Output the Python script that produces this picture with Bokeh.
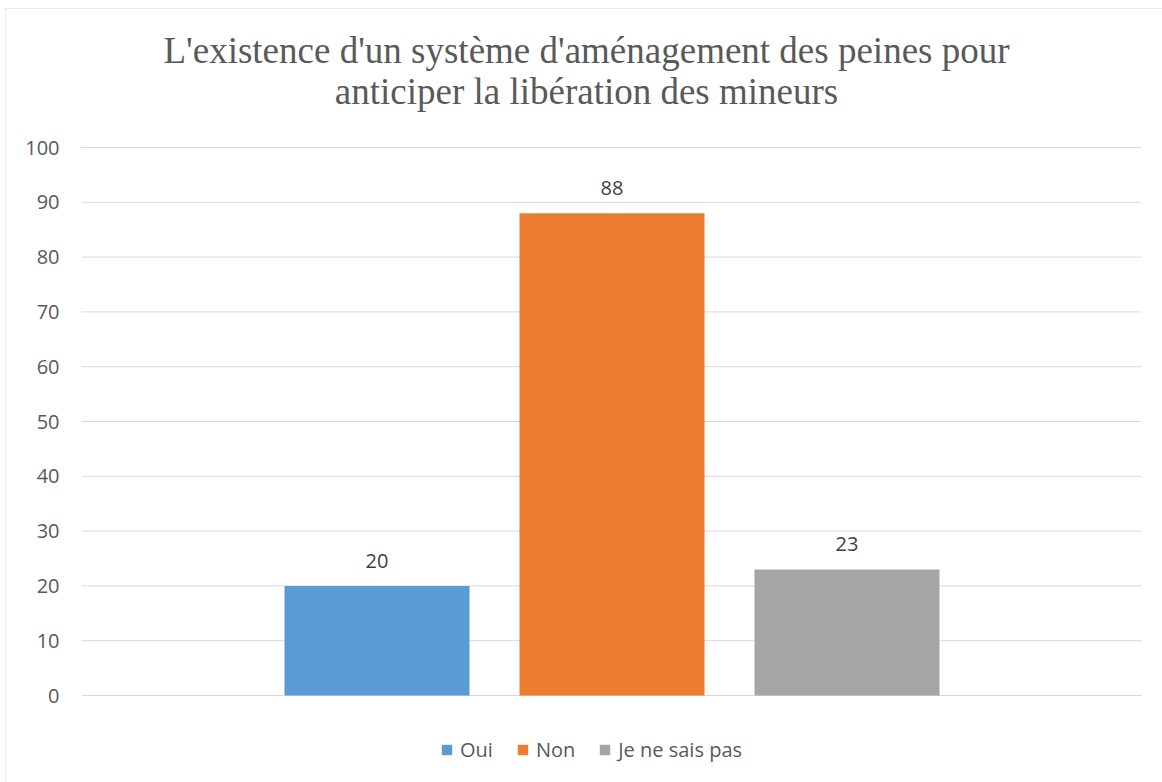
from bokeh.plotting import figure
from bokeh.models import (Range1d, Legend, LegendItem, Label,
                          ColumnDataSource)
from bokeh.core.properties import value
from bokeh.embed import file_html
from bokeh.resources import INLINE

title_lines = ["L'existence d'un système d'aménagement des peines pour",
               "anticiper la libération des mineurs"]
series = ["Oui", "Non", "Je ne sais pas"]
values = [20, 88, 23]
colors = ["#5B9BD5", "#ED7D31", "#A5A5A5"]
y_ticks = [0, 10, 20, 30, 40, 50, 60, 70, 80, 90, 100]

# layout constants (pixels): canvas 1157x774, plot area 76..1136 x 139..687
W, H = 1157, 774
PX_X = 235.0          # pixels per bar slot
PX_Y = 5.48           # pixels per y unit
X0_PX, Y0_PX = 371.5, 687.0   # pixel position of first slot centre and y=0
PLOT_L_PX, PLOT_R_PX = 76, 1136

xs = list(range(len(series)))
plot_left = (PLOT_L_PX - X0_PX) / PX_X
plot_right = (PLOT_R_PX - X0_PX) / PX_X

p = figure(x_range=Range1d(-X0_PX / PX_X, (W - X0_PX) / PX_X),
           y_range=Range1d(-(H - Y0_PX) / PX_Y, Y0_PX / PX_Y),
           width=W, height=H, min_border=0,
           x_axis_location=None, y_axis_location=None,
           output_backend="svg", toolbar_location=None,
           background_fill_color="white", border_fill_color="white")
p.outline_line_color = None
p.grid.visible = False
p.styles = {"margin-left": "5px", "margin-top": "8px",
            "box-shadow": "inset 1px 1px 0 #D9D9D9"}

# gridlines
grid = ColumnDataSource(dict(x0=[plot_left] * len(y_ticks),
                             x1=[plot_right] * len(y_ticks),
                             y=y_ticks, lab=[str(t) for t in y_ticks]))
p.segment(x0="x0", x1="x1", y0="y", y1="y", source=grid,
          line_color="#D9D9D9", line_width=1)
# y tick labels
p.text(x="x0", y="y", text="lab", source=grid, x_offset=-22,
       text_align="right", text_baseline="middle",
       text_font=value("Open Sans"), text_font_size="20px",
       text_color="#595959")

src = ColumnDataSource(dict(x=xs, val=values, col=colors,
                            lab=[str(v) for v in values]))
r = p.vbar(x="x", top="val", width=185 / PX_X, fill_color="col",
           line_color=None, source=src)
p.text(x="x", y="val", text="lab", source=src, y_offset=-25,
       text_align="center", text_baseline="alphabetic",
       text_font=value("Open Sans"), text_font_size="20px",
       text_color="#404040")

# title (screen units from the canvas bottom-left)
for line, yy in zip(title_lines, [H - 42, H - 83]):
    p.add_layout(Label(x=581, y=yy, x_units="screen", y_units="screen",
                       text=line, text_align="center",
                       text_baseline="alphabetic",
                       text_font="Liberation Serif",
                       text_font_size="37px", text_color="#595959"))

legend = Legend(items=[LegendItem(label=s, renderers=[r], index=i)
                       for i, s in enumerate(series)],
                orientation="horizontal", location=(435, 19),
                glyph_width=13, glyph_height=13, label_standoff=7, spacing=23,
                label_text_font="Open Sans", label_text_font_size="20px",
                label_text_color="#595959", border_line_color=None,
                background_fill_alpha=0, padding=0, margin=0)
p.add_layout(legend, "center")

open("out.html", "w").write(file_html(p, INLINE))
